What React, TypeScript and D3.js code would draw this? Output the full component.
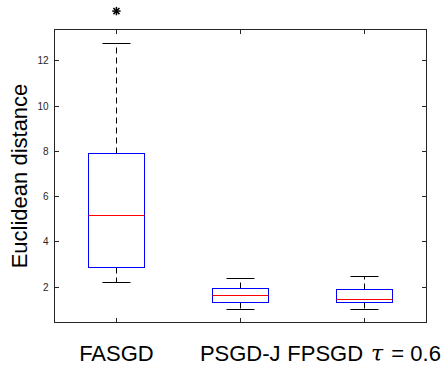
import React from "react";
import * as d3 from "d3";

const categories = ["FASGD", "PSGD-J", "FPSGD"];
const lowerWhisker = [2.22, 1.04, 1.03];
const q1 = [2.86, 1.34, 1.31];
const median = [5.17, 1.66, 1.48];
const q3 = [7.89, 1.96, 1.91];
const upperWhisker = [12.78, 2.41, 2.46];
const outliers: [number, number][] = [[0, 14.19]];
const yTicks = [2, 4, 6, 8, 10, 12];

const W = 442;
const H = 367;
const left = 54.5;
const right = 426;
const top = 29.3;
const bottom = 322.7;
const axisColor = "#262626";
const font = "'Liberation Sans', Arial, sans-serif";
const p = (v: number) => Math.round(v - 0.5) + 0.5;

export default function App() {
  const x = d3.scaleLinear().domain([0.5, 3.5]).range([left, right]);
  const y = d3.scaleLinear().domain([0.438, 13.386]).range([bottom, top]);
  const boxHalf = 0.226;
  const capHalf = 0.113;

  return (
    <svg
      width={W}
      height={H}
      style={{ position: "absolute", left: 0, top: 0, background: "#fff" }}
      fontFamily={font}
    >
      <rect x={0} y={0} width={W} height={H} fill="#fff" />
      {categories.map((c, i) => {
        const cx = p(x(i + 1));
        const bx0 = p(x(i + 1 - boxHalf));
        const bx1 = p(x(i + 1 + boxHalf));
        const cx0 = p(x(i + 1 - capHalf));
        const cx1 = p(x(i + 1 + capHalf));
        const yq3 = p(y(q3[i]));
        const yq1 = p(y(q1[i]));
        const yuw = p(y(upperWhisker[i]));
        const ylw = p(y(lowerWhisker[i]));
        const ym = p(y(median[i]));
        return (
          <g key={c}>
            <line x1={cx} x2={cx} y1={yq3} y2={yuw} stroke="#000" strokeDasharray="6,4" />
            <line x1={cx} x2={cx} y1={yq1} y2={ylw} stroke="#000" strokeDasharray="6,4" />
            <line x1={cx0} x2={cx1} y1={yuw} y2={yuw} stroke="#000" />
            <line x1={cx0} x2={cx1} y1={ylw} y2={ylw} stroke="#000" />
            <rect x={bx0} y={yq3} width={bx1 - bx0} height={yq1 - yq3} fill="#fff" stroke="#0000ff" />
            <line x1={bx0} x2={bx1} y1={ym} y2={ym} stroke="#ff0000" />
          </g>
        );
      })}
      {outliers.map(([i, v], k) => {
        const cx = x(i + 1);
        const cy = y(v);
        const r = 4.2;
        const d = r * 0.72;
        return (
          <g key={k} stroke="#000" strokeWidth={1.5}>
            <line x1={cx} x2={cx} y1={cy - r} y2={cy + r} />
            <line x1={cx - r} x2={cx + r} y1={cy} y2={cy} />
            <line x1={cx - d} x2={cx + d} y1={cy - d} y2={cy + d} />
            <line x1={cx - d} x2={cx + d} y1={cy + d} y2={cy - d} />
          </g>
        );
      })}
      <rect x={p(left)} y={p(top)} width={p(right) - p(left)} height={p(bottom) - p(top)} fill="none" stroke={axisColor} />
      {yTicks.map((t) => (
        <g key={t}>
          <line x1={p(left)} x2={p(left) + 4.5} y1={p(y(t))} y2={p(y(t))} stroke={axisColor} />
          <line x1={p(right)} x2={p(right) - 4.5} y1={p(y(t))} y2={p(y(t))} stroke={axisColor} />
          <text x={left - 6} y={y(t)} dy="0.35em" textAnchor="end" fontSize={10} fill={axisColor}>
            {t}
          </text>
        </g>
      ))}
      {categories.map((c, i) => (
        <g key={"xt" + c}>
          <line x1={p(x(i + 1))} x2={p(x(i + 1))} y1={p(bottom)} y2={p(bottom) - 4.5} stroke={axisColor} />
          <line x1={p(x(i + 1))} x2={p(x(i + 1))} y1={p(top)} y2={p(top) + 4.5} stroke={axisColor} />
        </g>
      ))}
      <text x={x(1)} y={361} textAnchor="middle" fontSize={22} fill="#000">{categories[0]}</text>
      <text x={x(2)} y={361} textAnchor="middle" fontSize={22} fill="#000">{categories[1]}</text>
      <text x={x(3)} y={361} textAnchor="middle" fontSize={22} fill="#000">
        {categories[2]}
        <tspan fontStyle="italic" fontFamily="'DejaVu Serif', serif" dx={8}>τ</tspan>
        <tspan dx={2}> = 0.6</tspan>
      </text>
      <text
        transform={`translate(27,${(top + bottom) / 2}) rotate(-90)`}
        textAnchor="middle"
        fontSize={22}
        fill="#000"
      >
        Euclidean distance
      </text>
    </svg>
  );
}
